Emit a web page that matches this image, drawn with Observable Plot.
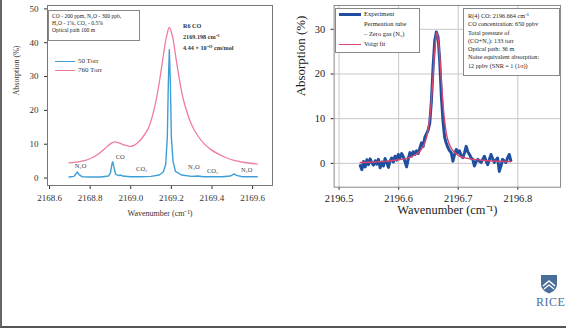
<!DOCTYPE html>
<html><head><meta charset="utf-8">
<script src="https://cdn.jsdelivr.net/npm/d3@7"></script>
<script src="https://cdn.jsdelivr.net/npm/@observablehq/plot@0.6"></script>
<style>
html,body{margin:0;padding:0;background:#fff;}
#slide{position:relative;width:566px;height:328px;overflow:hidden;background:#fff;font-family:"Liberation Serif",serif;color:#222;border-left:2px solid #666;border-bottom:2px solid #555;box-sizing:border-box;}
.abs{position:absolute;}
.box{border:1px solid #888;background:#fff;box-sizing:border-box;}
.tl{line-height:1.25;white-space:nowrap;}
</style></head>
<body>
<div id="slide">
  <div id="left" class="abs" style="left:-2px;top:0"></div>
  <div id="right" class="abs" style="left:278px;top:0"></div>
</div>
<script>
// ---------- Left chart data (R6 CO, 50 vs 760 Torr) ----------
const leftTicksX = [2168.6, 2168.8, 2169.0, 2169.2, 2169.4, 2169.6];
const leftTicksY = [0, 10, 20, 30, 40, 50];
const torr760_w = [2168.696,2168.74,2168.777,2168.81,2168.842,2168.87,2168.891,2168.908,2168.923,2168.945,2168.972,2169.005,2169.03,2169.054,2169.086,2169.105,2169.125,2169.145,2169.16,2169.175,2169.19,2169.205,2169.22,2169.24,2169.26,2169.298,2169.33,2169.362,2169.395,2169.428,2169.47,2169.509,2169.56,2169.623];
const torr760_v = [4.5,4.8,5.2,6.0,7.2,8.6,9.7,10.4,10.7,10.3,9.7,9.4,10.2,11.7,14.6,18.0,23.0,30.0,36.0,41.5,44.5,42.0,36.5,29.0,23.0,16.0,12.5,10.1,8.4,7.2,6.0,5.2,4.6,4.2];
const torr50_w = [2168.696,2168.72,2168.73,2168.737,2168.745,2168.76,2168.80,2168.85,2168.89,2168.90,2168.907,2168.911,2168.916,2168.925,2168.94,2168.95,2168.96,2169.00,2169.05,2169.10,2169.14,2169.16,2169.172,2169.18,2169.185,2169.19,2169.195,2169.20,2169.208,2169.22,2169.25,2169.30,2169.33,2169.36,2169.40,2169.45,2169.49,2169.505,2169.51,2169.52,2169.55,2169.623];
const torr50_v = [0.3,0.5,1.2,1.8,1.0,0.4,0.3,0.3,0.6,1.5,4.0,4.8,3.5,1.2,0.7,0.9,0.6,0.4,0.4,0.5,0.9,1.8,4.0,12.0,28.0,37.9,28.0,12.0,5.0,2.0,0.9,0.5,0.6,0.4,0.4,0.4,0.6,1.1,1.2,0.8,0.4,0.4];
const leftLabels = ["N₂O","CO","CO₂","N₂O","CO₂","N₂O"];
const leftLabelW = [2168.753,2168.948,2169.054,2169.311,2169.403,2169.571];
const leftLabelV = [3.7,6.2,2.6,3.2,2.1,2.3];
const leftSeries = ["50 Torr","760 Torr"];

// ---------- Right chart data (R(4) CO, permeation tube) ----------
const rightTicksX = [2196.5, 2196.6, 2196.7, 2196.8];
const rightTicksY = [0, 10, 20, 30];
const exp_w = [2196.5356,2196.5383,2196.5411,2196.5439,2196.5467,2196.5494,2196.5522,2196.555,2196.5578,2196.5606,2196.5633,2196.5661,2196.5689,2196.5717,2196.5744,2196.5772,2196.58,2196.5828,2196.5856,2196.5883,2196.5911,2196.5939,2196.5967,2196.5994,2196.6022,2196.605,2196.6078,2196.6106,2196.6133,2196.6161,2196.6189,2196.6217,2196.6244,2196.6272,2196.63,2196.6328,2196.6356,2196.6383,2196.6411,2196.6439,2196.6467,2196.6494,2196.6522,2196.655,2196.6578,2196.6606,2196.6633,2196.6661,2196.6689,2196.6717,2196.6744,2196.6772,2196.68,2196.6828,2196.6856,2196.6883,2196.6911,2196.6939,2196.6967,2196.6994,2196.7022,2196.705,2196.7078,2196.7106,2196.7133,2196.7161,2196.7189,2196.7217,2196.7244,2196.7272,2196.73,2196.7328,2196.7356,2196.7383,2196.7411,2196.7439,2196.7467,2196.7494,2196.7522,2196.755,2196.7578,2196.7606,2196.7633,2196.7661,2196.7689,2196.7717,2196.7744,2196.7772,2196.78,2196.7828,2196.7856,2196.7883];
const exp_v = [-0.5,-1.4,0.4,-0.8,0.8,-0.3,1.0,0.1,-0.4,0.6,-0.2,0.9,-1.0,0.3,-0.6,1.1,0.2,-0.9,0.5,1.2,0.3,1.6,0.7,2.0,1.2,2.2,1.5,0.4,-0.8,1.0,2.4,1.6,2.6,2.0,2.8,2.2,3.4,4.6,3.8,5.8,6.6,7.4,9.0,14.0,21.6,27.5,29.4,28.3,23.0,15.0,9.5,5.8,4.5,3.5,2.8,2.4,0.5,2.0,3.1,2.4,2.8,1.6,1.3,2.4,3.8,2.6,2.0,1.2,0.9,-0.6,0.4,0.9,0.5,0.2,0.9,1.6,0.6,-0.3,0.8,2.0,1.0,0.2,0.7,1.2,-1.8,-0.6,0.9,0.5,0.2,1.2,2.0,0.6];
const fit_w = [2196.5356,2196.56,2196.58,2196.60,2196.62,2196.635,2196.645,2196.652,2196.657,2196.661,2196.664,2196.667,2196.671,2196.676,2196.682,2196.69,2196.70,2196.72,2196.75,2196.7883];
const fit_v = [0.2,0.3,0.5,0.8,1.4,2.6,5.0,10.0,18.0,26.0,29.3,27.0,20.0,11.0,5.5,3.0,1.8,1.0,0.6,0.4];
const rightSeries = ["Experiment","Voigt fit"];

const blue50 = "#3d9fd6", pink760 = "#ef7d9d", expBlue = "#1f4f9e", fitPink = "#d9466f";
const serif = "Liberation Serif";
const fmt1 = d3.format(".1f");

const left760 = torr760_w.map((w,i)=>({w, v: torr760_v[i]}));
const left50 = torr50_w.map((w,i)=>({w, v: torr50_v[i]}));
const leftAnn = leftLabels.map((t,i)=>({t, w: leftLabelW[i], v: leftLabelV[i]}));

const leftPlot = Plot.plot({
  width: 282, height: 222,
  marginLeft: 47, marginRight: 10, marginTop: 5, marginBottom: 37,
  style: {fontFamily: serif, fontSize: "9px", color: "#333", background: "transparent"},
  x: {domain: [2168.59, 2169.698], ticks: leftTicksX, tickFormat: fmt1, tickSize: 4, tickPadding: 5, label: null},
  y: {domain: [-2.2, 51], ticks: leftTicksY, tickSize: 3, label: null},
  marks: [
    Plot.frame({stroke: "#777"}),
    Plot.line(left760, {x: "w", y: "v", stroke: pink760, strokeWidth: 1.3, curve: "catmull-rom"}),
    Plot.line(left50, {x: "w", y: "v", stroke: blue50, strokeWidth: 1.4}),
    Plot.text(leftAnn, {x: "w", y: "v", text: "t", fontSize: 6.5, fill: "#444", textAnchor: "middle"}),
    Plot.text(["Wavenumber (cm⁻¹)"], {frameAnchor: "bottom", dy: 30, fontSize: 8, fill: "#333"}),
    Plot.text(["Absorption (%)"], {frameAnchor: "left", dx: -31, rotate: -90, fontSize: 8, fill: "#333"})
  ]
});
document.getElementById("left").appendChild(leftPlot);

const rightExp = exp_w.map((w,i)=>({w, v: exp_v[i]}));
const rightFit = fit_w.map((w,i)=>({w, v: fit_v[i]}));

const rightPlot = Plot.plot({
  width: 288, height: 224,
  marginLeft: 54, marginRight: 6, marginTop: 5, marginBottom: 36,
  style: {fontFamily: serif, fontSize: "10.5px", color: "#222", background: "transparent"},
  x: {domain: [2196.4917, 2196.8717], ticks: rightTicksX, tickFormat: fmt1, tickSize: 3, tickPadding: 4, label: null},
  y: {domain: [-5.33, 35.33], ticks: rightTicksY, tickSize: 3, label: null},
  marks: [
    Plot.gridX(rightTicksX, {stroke: "#c8c8c8", strokeOpacity: 1}),
    Plot.gridY(rightTicksY, {stroke: "#c8c8c8", strokeOpacity: 1}),
    Plot.frame({stroke: "#888"}),
    Plot.line(rightExp, {x: "w", y: "v", stroke: expBlue, strokeWidth: 3}),
    Plot.line(rightFit, {x: "w", y: "v", stroke: fitPink, strokeWidth: 1.4, curve: "catmull-rom"}),
    Plot.text(["Wavenumber (cm⁻¹)"], {frameAnchor: "bottom", dy: 27, fontSize: 12.5, fill: "#222"}),
    Plot.text(["Absorption (%)"], {frameAnchor: "left", dx: -33, rotate: -90, fontSize: 13, fill: "#222"})
  ]
});
document.getElementById("right").appendChild(rightPlot);

// ---------- overlays: legends and annotation boxes ----------
const slide = document.getElementById("slide");
function add(html){ slide.insertAdjacentHTML("beforeend", html); }

add(`<div class="abs box tl" style="left:46px;top:10px;width:92px;height:31px;font-size:5.6px;padding:2px 3px;">CO - 200 ppm, N₂O - 300 ppb,<br>H₂O - 1%, CO₂ - 0.5%<br>Optical path 100 m</div>`);
add(`<div class="abs tl" style="left:181px;top:20px;font-size:6.2px;line-height:11px;font-weight:bold;color:#333;">R6 CO<br>2169.198 cm⁻¹<br>4.44 × 10⁻¹⁹ cm/mol</div>`);
add(`<div class="abs" style="left:53px;top:61px;width:20px;border-top:1.5px solid ${blue50};"></div>
     <div class="abs tl" style="left:76px;top:57px;font-size:7px;color:#333;">${leftSeries[0]}</div>
     <div class="abs" style="left:53px;top:70px;width:20px;border-top:1.3px solid ${pink760};"></div>
     <div class="abs tl" style="left:76px;top:66px;font-size:7px;color:#333;">${leftSeries[1]}</div>`);

add(`<div class="abs box" style="left:333px;top:8px;width:85px;height:45px;"></div>
     <div class="abs" style="left:337px;top:13px;width:22px;border-top:3px solid ${expBlue};"></div>
     <div class="abs tl" style="left:362px;top:9px;font-size:6.5px;line-height:10px;">${rightSeries[0]}<br>Permeation tube<br>– Zero gas (N₂)</div>
     <div class="abs" style="left:337px;top:44px;width:22px;border-top:1.4px solid ${fitPink};"></div>
     <div class="abs tl" style="left:362px;top:40px;font-size:6.5px;">${rightSeries[1]}</div>`);
add(`<div class="abs box tl" style="left:461px;top:8px;width:97px;height:68px;font-size:6.2px;line-height:8.3px;padding:3px 4px;">R(4) CO: 2196.664 cm⁻¹<br>CO concentration: 650 ppbv<br>Total pressure of<br>(CO+N₂): 133 torr<br>Optical path: 36 m<br>Noise equivalent absorption:<br>12 ppbv (SNR = 1 (1σ))</div>`);

// Rice logo (decoration)
add(`<svg class="abs" style="left:538px;top:274px" width="18" height="20" viewBox="0 0 18 20">
  <path d="M1 1 H17 V10 C17 15 13 18 9 19.5 C5 18 1 15 1 10 Z" fill="#4a6e9a"/>
  <path d="M3 12 L9 7 L15 12" stroke="#fff" stroke-width="1.6" fill="none"/>
  <path d="M4 15 L9 11 L14 15" stroke="#fff" stroke-width="1.2" fill="none"/>
</svg>
<div class="abs" style="left:534px;top:295px;font-size:12px;color:#4a6e9a;letter-spacing:0.5px;">RICE</div>`);
</script>
</body></html>
